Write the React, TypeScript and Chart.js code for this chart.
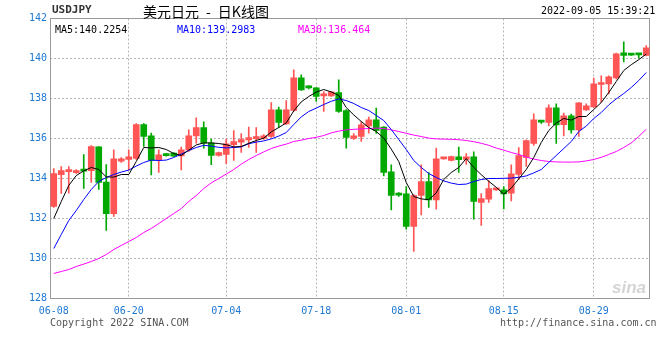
import React, { useEffect, useRef } from "react";
import { Chart, registerables } from "chart.js";

Chart.register(...registerables);

// ---------- data ----------
const dates = [
  "06-08", "06-09", "06-10", "06-11", "06-13", "06-14", "06-15", "06-16", "06-17", "06-18",
  "06-20", "06-21", "06-22", "06-23", "06-24", "06-25",
  "06-27", "06-28", "06-29", "06-30", "07-01", "07-02", "07-03",
  "07-04", "07-05", "07-06", "07-07", "07-08", "07-09",
  "07-11", "07-12", "07-13", "07-14", "07-15", "07-16",
  "07-18", "07-19", "07-20", "07-21", "07-22", "07-23",
  "07-25", "07-26", "07-27", "07-28", "07-29", "07-30",
  "08-01", "08-02", "08-03", "08-04", "08-05", "08-06",
  "08-08", "08-09", "08-10", "08-11", "08-12", "08-13", "08-14",
  "08-15", "08-16", "08-17", "08-18", "08-19", "08-20",
  "08-22", "08-23", "08-24", "08-25", "08-26", "08-27",
  "08-29", "08-30", "08-31", "09-01", "09-02", "09-03", "09-04", "09-05",
];

const opens = [
  132.6, 134.19, 134.34, 134.29, 134.4, 134.39, 135.58, 133.82, 132.24, 134.87,
  134.95, 135.0, 136.7, 136.13, 134.93, 135.23, 135.27, 135.13, 135.43, 136.13,
  136.55, 135.77, 135.15, 135.2, 135.69, 135.82, 135.93, 135.99, 136.0, 136.1,
  137.43, 136.73, 137.4, 139.03, 138.63, 138.53, 138.13, 138.13, 138.3, 137.4,
  136.0, 136.1, 136.63, 136.93, 136.57, 134.33, 133.25, 133.23, 131.6, 133.15,
  133.85, 132.93, 134.98, 134.9, 135.08, 134.95, 135.08, 132.8, 132.97, 133.43,
  133.43, 133.27, 134.2, 135.05, 135.75, 136.85, 136.8, 137.53, 136.69, 137.13,
  136.43, 137.43, 137.58, 138.7, 138.73, 139.03, 140.28, 140.23, 140.2, 140.15,
];

const highs = [
  134.5, 134.6, 134.6, 134.45, 135.2, 135.65, 135.6, 134.69, 135.43, 135.05,
  135.43, 136.75, 136.75, 136.27, 135.43, 135.25, 135.3, 135.57, 136.43, 137.03,
  136.83, 135.97, 135.32, 135.97, 136.4, 136.24, 136.57, 136.55, 136.2, 137.8,
  137.57, 137.9, 139.43, 139.18, 138.65, 138.55, 138.35, 138.35, 138.93, 137.45,
  136.25, 136.85, 137.07, 137.52, 136.6, 134.68, 133.3, 133.6, 133.2, 134.68,
  134.3, 135.52, 135.05, 135.12, 135.57, 135.25, 135.33, 133.25, 133.9, 133.5,
  133.6, 134.68, 135.55, 135.93, 137.23, 136.9, 137.68, 137.73, 137.27, 137.22,
  137.8, 137.73, 139.02, 139.13, 139.13, 140.27, 140.83, 140.25, 140.25, 140.65,
];

const lows = [
  132.55, 133.25, 133.27, 134.25, 133.5, 133.8, 133.45, 131.4, 132.1, 134.8,
  134.43, 134.95, 135.6, 134.18, 134.3, 135.12, 135.1, 134.43, 135.35, 135.77,
  135.52, 134.69, 135.12, 134.74, 134.9, 135.3, 135.55, 135.3, 135.95, 136.05,
  136.55, 136.7, 137.35, 138.4, 138.48, 137.85, 137.35, 138.1, 137.3, 135.52,
  135.95, 135.85, 136.27, 136.25, 134.13, 132.43, 133.1, 131.47, 130.35, 132.18,
  132.55, 132.47, 134.97, 134.88, 134.3, 134.7, 131.97, 131.65, 132.8, 133.4,
  132.48, 132.88, 133.95, 134.6, 135.65, 136.75, 136.63, 135.75, 136.13, 136.27,
  136.1, 137.4, 137.55, 137.8, 138.23, 138.98, 139.83, 140.15, 140.02, 140.13,
];

const closes = [
  134.25, 134.39, 134.44, 134.39, 134.37, 135.6, 133.8, 132.24, 134.98, 134.98,
  135.08, 136.7, 136.1, 134.9, 135.18, 135.14, 135.12, 135.43, 136.13, 136.55,
  135.77, 135.15, 135.3, 135.73, 135.84, 135.95, 136.05, 136.09, 136.13, 137.43,
  136.8, 137.43, 139.03, 138.43, 138.53, 138.1, 138.23, 138.33, 137.35, 136.05,
  136.13, 136.68, 136.93, 136.4, 134.3, 133.15, 133.17, 131.6, 133.15, 133.85,
  132.93, 134.98, 135.03, 135.1, 134.94, 135.08, 132.85, 133.0, 133.5, 133.47,
  133.23, 134.23, 135.15, 135.9, 136.93, 136.82, 137.53, 136.68, 137.13, 136.43,
  137.78, 137.63, 138.73, 138.8, 139.08, 140.23, 140.15, 140.17, 140.18, 140.53,
];

const ma5 = [
  132.0, 132.85, 133.65, 134.15, 134.38, 134.55, 134.45, 134.08, 134.07, 134.2,
  134.2, 134.85, 135.55, 135.53, 135.55, 135.45, 135.25, 135.15, 135.42, 135.68,
  135.78, 135.78, 135.75, 135.69, 135.58, 135.6, 135.76, 135.9, 136.02, 136.33,
  136.55, 136.78, 137.38, 137.83, 138.1, 138.32, 138.45, 138.33, 138.15, 137.55,
  137.18, 136.85, 136.55, 136.35, 136.02, 135.47, 134.85, 133.8, 133.1, 132.98,
  132.94, 133.28, 133.95, 134.3, 134.55, 135.0, 134.55, 134.19, 133.86, 133.56,
  133.22, 133.52, 133.98, 134.45, 135.05, 135.8, 136.4, 136.77, 137.0, 136.92,
  137.1, 137.1, 137.45, 137.8, 138.3, 138.85, 139.4, 139.69, 139.94, 140.2254,
];

const ma10 = [
  130.5, 131.2, 131.9, 132.4, 132.95, 133.45, 133.85, 134.05, 134.2, 134.32,
  134.42, 134.62, 134.8, 134.92, 134.9, 134.92, 135.05, 135.22, 135.4, 135.55,
  135.66, 135.62, 135.56, 135.53, 135.55, 135.58, 135.74, 135.82, 135.88, 135.98,
  136.12, 136.3, 136.7, 137.08, 137.35, 137.52, 137.7, 137.86, 137.98, 137.9,
  137.75, 137.55, 137.4, 137.15, 136.9, 136.45, 135.95, 135.45, 134.9, 134.55,
  134.25, 134.05, 133.88, 133.77, 133.7, 133.72, 133.85, 133.95, 134.0, 134.0,
  134.01, 134.02, 134.06, 134.13, 134.28, 134.45, 134.8, 135.15, 135.5, 135.85,
  136.35, 136.62, 137.0, 137.3, 137.68, 137.98, 138.25, 138.55, 138.9, 139.2983,
];

const ma30 = [
  129.25, 129.35, 129.45, 129.6, 129.72, 129.85, 130.0, 130.2, 130.45, 130.65,
  130.85, 131.05, 131.3, 131.5, 131.75, 132.0, 132.25, 132.5, 132.85, 133.15,
  133.5, 133.78, 134.0, 134.22, 134.45, 134.72, 134.95, 135.15, 135.33, 135.5,
  135.62, 135.72, 135.85, 135.92, 136.0, 136.06, 136.15, 136.28, 136.37, 136.43,
  136.46, 136.48, 136.5, 136.52, 136.5, 136.43, 136.35, 136.26, 136.17, 136.1,
  136.02, 135.98, 135.97, 135.96, 135.94, 135.9, 135.84, 135.76, 135.66, 135.52,
  135.42, 135.3, 135.2, 135.07, 134.97, 134.9, 134.85, 134.83, 134.82, 134.82,
  134.83, 134.88, 134.95, 135.06, 135.2, 135.35, 135.55, 135.78, 136.1, 136.464,
];

const xTickDates = ["06-08", "06-20", "07-04", "07-18", "08-01", "08-15", "08-29"];
const yMin = 128;
const yMax = 142;
const yStep = 2;

const legendItems = [
  { text: "MA5:140.2254", color: "#000000", left: 55 },
  { text: "MA10:139.2983", color: "#0000ff", left: 177 },
  { text: "MA30:136.464", color: "#ff00ff", left: 298 },
];

// ---------- style ----------
const RED = "#ff5555";
const GREEN = "#00a800";
const AXIS_BLUE = "#1f78d1";
const GRID = "#b4b4b4";
const MONO = "'DejaVu Sans Mono', 'Liberation Mono', monospace";

const framePlugin = {
  id: "frame",
  beforeDatasetsDraw(chart: any) {
    const { ctx, chartArea } = chart;
    const x0 = Math.floor(chartArea.left) + 0.5;
    const y0 = Math.floor(chartArea.top) + 0.5;
    const x1 = Math.ceil(chartArea.right) - 0.5;
    const y1 = Math.floor(chartArea.bottom) + 0.5;
    ctx.save();
    ctx.strokeStyle = "#9a9a9a";
    ctx.lineWidth = 1;
    ctx.strokeRect(x0, y0, x1 - x0, y1 - y0);
    ctx.restore();
  },
};

const txt = (extra: React.CSSProperties): React.CSSProperties => ({
  position: "absolute",
  fontFamily: MONO,
  fontSize: 10,
  lineHeight: "12px",
  whiteSpace: "pre",
  ...extra,
});

export default function App() {
  const ref = useRef<HTMLCanvasElement>(null);

  useEffect(() => {
    if (!ref.current) return;
    const colors = closes.map((c, i) => (c >= opens[i] ? RED : GREEN));
    const chart = new Chart(ref.current, {
      type: "bar",
      data: {
        labels: dates,
        datasets: [
          {
            type: "line",
            data: ma5,
            borderColor: "#000000",
            borderWidth: 1,
            pointRadius: 0,
            tension: 0,
            order: 0,
          } as any,
          {
            type: "line",
            data: ma10,
            borderColor: "#0000ff",
            borderWidth: 1,
            pointRadius: 0,
            tension: 0,
            order: 0,
          } as any,
          {
            type: "line",
            data: ma30,
            borderColor: "#ff00ff",
            borderWidth: 1,
            pointRadius: 0,
            tension: 0,
            order: 0,
          } as any,
          {
            type: "bar",
            data: opens.map((o, i) => [o, closes[i]]),
            backgroundColor: colors,
            borderWidth: 0,
            barThickness: 6,
            grouped: false,
            minBarLength: 2,
            order: 1,
          } as any,
          {
            type: "bar",
            data: lows.map((l, i) => [l, highs[i]]),
            backgroundColor: colors,
            borderWidth: 0,
            barThickness: 1,
            grouped: false,
            order: 2,
          } as any,
        ],
      },
      options: {
        responsive: false,
        animation: false,
        events: [],
        layout: { padding: { left: 0, right: 10, top: 18.5, bottom: 0 } },
        plugins: {
          legend: { display: false },
          tooltip: { enabled: false },
          title: { display: false },
        },
        scales: {
          x: {
            type: "category",
            offset: true,
            grid: {
              offset: false,
              drawTicks: false,
              lineWidth: 1,
              color: (ctx: any) => {
                const l = dates[ctx.index];
                return ctx.index > 0 && xTickDates.includes(l) ? GRID : "rgba(0,0,0,0)";
              },
            },
            border: { display: false, dash: [2, 2] },
            ticks: {
              autoSkip: false,
              maxRotation: 0,
              minRotation: 0,
              padding: 7,
              color: AXIS_BLUE,
              font: { family: MONO, size: 10 },
              callback: (_v: any, i: number) => (xTickDates.includes(dates[i]) ? dates[i] : ""),
            },
            afterFit: (s: any) => {
              s.height = 61.5;
            },
          },
          y: {
            min: yMin,
            max: yMax,
            ticks: {
              stepSize: yStep,
              padding: 3,
              color: AXIS_BLUE,
              font: { family: MONO, size: 10 },
            },
            grid: {
              drawTicks: false,
              lineWidth: 1,
              color: (ctx: any) =>
                ctx.tick && (ctx.tick.value === yMin || ctx.tick.value === yMax)
                  ? "rgba(0,0,0,0)"
                  : GRID,
            },
            border: { display: false, dash: [2, 2] },
            afterFit: (s: any) => {
              s.width = 50;
            },
          },
        },
      } as any,
      plugins: [framePlugin],
    });
    return () => chart.destroy();
  }, []);

  return (
    <div
      style={{
        position: "absolute",
        left: 0,
        top: 0,
        width: 660,
        height: 360,
        background: "#ffffff",
        overflow: "hidden",
      }}
    >
      <canvas ref={ref} width={660} height={360} style={{ display: "block", width: 660, height: 360 }} />
      <div style={txt({ left: 52, top: 4, fontWeight: "bold", fontSize: 11, color: "#333" })}>USDJPY</div>
      <div
        style={txt({
          left: 143,
          top: 3,
          fontFamily: "'Noto Sans CJK SC', sans-serif",
          fontSize: 14,
          lineHeight: "16px",
          color: "#000",
        })}
      >
        {"美元日元\u2002-\u2002日K线图"}
      </div>
      <div style={txt({ left: 541, top: 5, color: "#000" })}>2022-09-05 15:39:21</div>
      {legendItems.map((it) => (
        <div key={it.text} style={txt({ left: it.left, top: 24, color: it.color })}>
          {it.text}
        </div>
      ))}
      <div style={txt({ left: 50, top: 317, color: "#555" })}>Copyright 2022 SINA.COM</div>
      <div style={txt({ left: 500, top: 317, color: "#555" })}>http://finance.sina.com.cn</div>
      <div
        style={{
          position: "absolute",
          left: 612,
          top: 279,
          fontFamily: "'Liberation Sans', sans-serif",
          fontStyle: "italic",
          fontWeight: "bold",
          fontSize: 17,
          lineHeight: "18px",
          color: "#d4d4d4",
        }}
      >
        sina
      </div>
    </div>
  );
}
